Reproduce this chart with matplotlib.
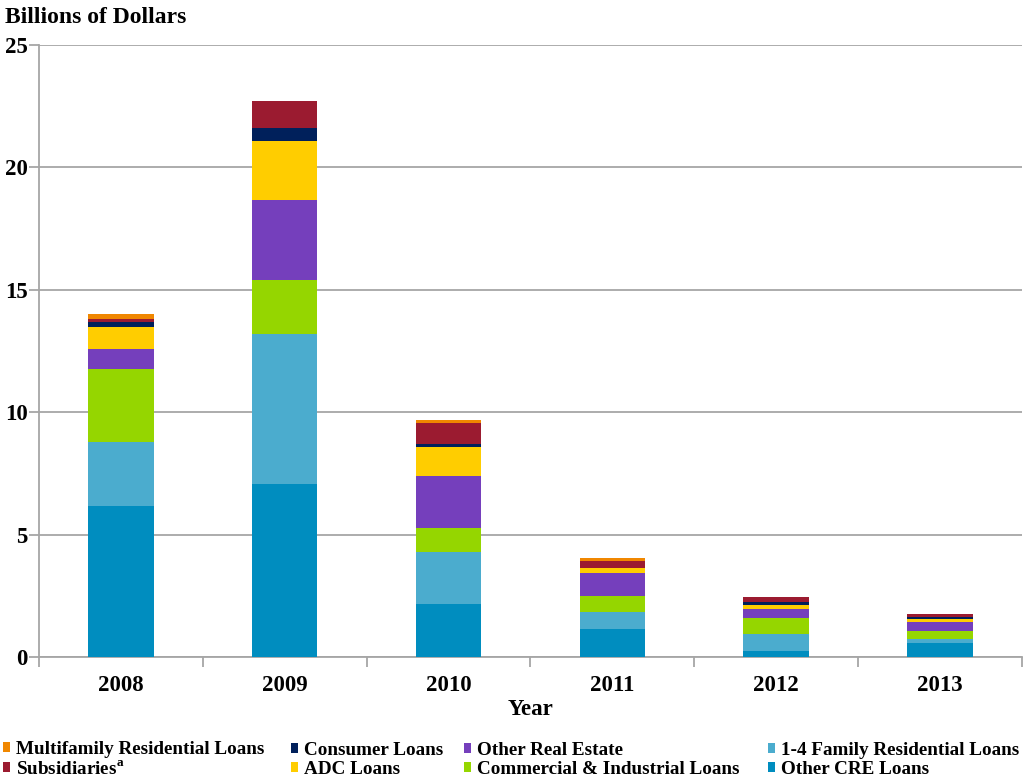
import numpy as np
import matplotlib
matplotlib.use("Agg")
import matplotlib.pyplot as plt
from matplotlib.patches import Patch

years = ["2008", "2009", "2010", "2011", "2012", "2013"]

# segments, bottom to top (billions of dollars)
other_cre = [6.17, 7.05, 2.17, 1.16, 0.26, 0.59]
family_14 = [2.61, 6.14, 2.13, 0.69, 0.69, 0.16]
comm_ind = [2.98, 2.21, 0.97, 0.63, 0.63, 0.33]
other_re = [0.82, 3.28, 2.12, 0.97, 0.40, 0.36]
adc = [0.90, 2.41, 1.19, 0.20, 0.16, 0.13]
consumer = [0.20, 0.53, 0.14, 0.00, 0.12, 0.08]
subsidiaries = [0.12, 1.11, 0.84, 0.29, 0.21, 0.12]
multifamily = [0.21, 0.00, 0.13, 0.12, 0.00, 0.00]

series = [
    ("Other CRE Loans", other_cre, "#008DBF"),
    ("1-4 Family Residential Loans", family_14, "#4BACCE"),
    ("Commercial & Industrial Loans", comm_ind, "#95D600"),
    ("Other Real Estate", other_re, "#753FBC"),
    ("ADC Loans", adc, "#FFCD00"),
    ("Consumer Loans", consumer, "#00205B"),
    ("Subsidiaries$^{\\mathregular{a}}$", subsidiaries, "#9B1B30"),
    ("Multifamily Residential Loans", multifamily, "#F08700"),
]

plt.rcParams['font.family'] = ['Liberation Serif', 'DejaVu Serif']
plt.rcParams['font.weight'] = 'bold'

fig = plt.figure(figsize=(10.26, 7.81), dpi=100)
ax = fig.add_axes([0.038, 0.1588, 0.958, 0.7836])

x = np.arange(len(years))
bottom = np.zeros(len(years))
colors = {}
for name, vals, col in series:
    vals = np.array(vals)
    ax.bar(x, vals, 0.40, bottom=bottom, color=col, linewidth=0, zorder=3)
    bottom += vals
    colors[name] = col

grid_c = "#A6A6A6"
ax.set_ylim(0, 25)
ax.set_xlim(-0.5, len(years) - 0.5)
ax.set_yticks([0, 5, 10, 15, 20, 25])
ax.yaxis.grid(True, color=grid_c, linewidth=1.3, zorder=0)
ax.set_xticks(x)
ax.set_xticklabels(years, fontsize=16.5, fontweight='bold')
ax.set_xticks(np.arange(-0.5, len(years)), minor=True)
ax.tick_params(axis='x', which='major', length=0, pad=13)
ax.tick_params(axis='x', which='minor', length=7, width=1.3, color=grid_c)
ax.tick_params(axis='y', length=7, width=1.3, color=grid_c, labelsize=16.5, pad=1)
for lab in ax.get_yticklabels():
    lab.set_fontweight('bold')
for s in ["top", "right"]:
    ax.spines[s].set_visible(False)
ax.spines["left"].set_color(grid_c)
ax.spines["left"].set_linewidth(1.3)
ax.spines["bottom"].set_color(grid_c)
ax.spines["bottom"].set_linewidth(1.3)
ax.set_xlabel("Year", fontsize=16.5, fontweight='bold', labelpad=2)

fig.text(0.005, 0.978, "Billions of Dollars", fontsize=17, fontweight='bold', va='center', ha='left')

# legend: four columns of two entries each, placed like the original
legend_cols = [
    ["Multifamily Residential Loans", "Subsidiaries$^{\\mathregular{a}}$"],
    ["Consumer Loans", "ADC Loans"],
    ["Other Real Estate", "Commercial & Industrial Loans"],
    ["1-4 Family Residential Loans", "Other CRE Loans"],
]
col_x = [3, 291, 464, 768]
for names, px in zip(legend_cols, col_x):
    handles = [Patch(facecolor=colors[n], edgecolor='none') for n in names]
    leg = fig.legend(handles, names, loc='lower left', bbox_to_anchor=(px / 1026, 3 / 781),
                     frameon=False, borderpad=0, borderaxespad=0,
                     handlelength=0.38, handleheight=0.38, handletextpad=0.3,
                     labelspacing=0.12, prop={'weight': 'bold', 'size': 13.8})

fig.savefig("out.png", dpi=100)
